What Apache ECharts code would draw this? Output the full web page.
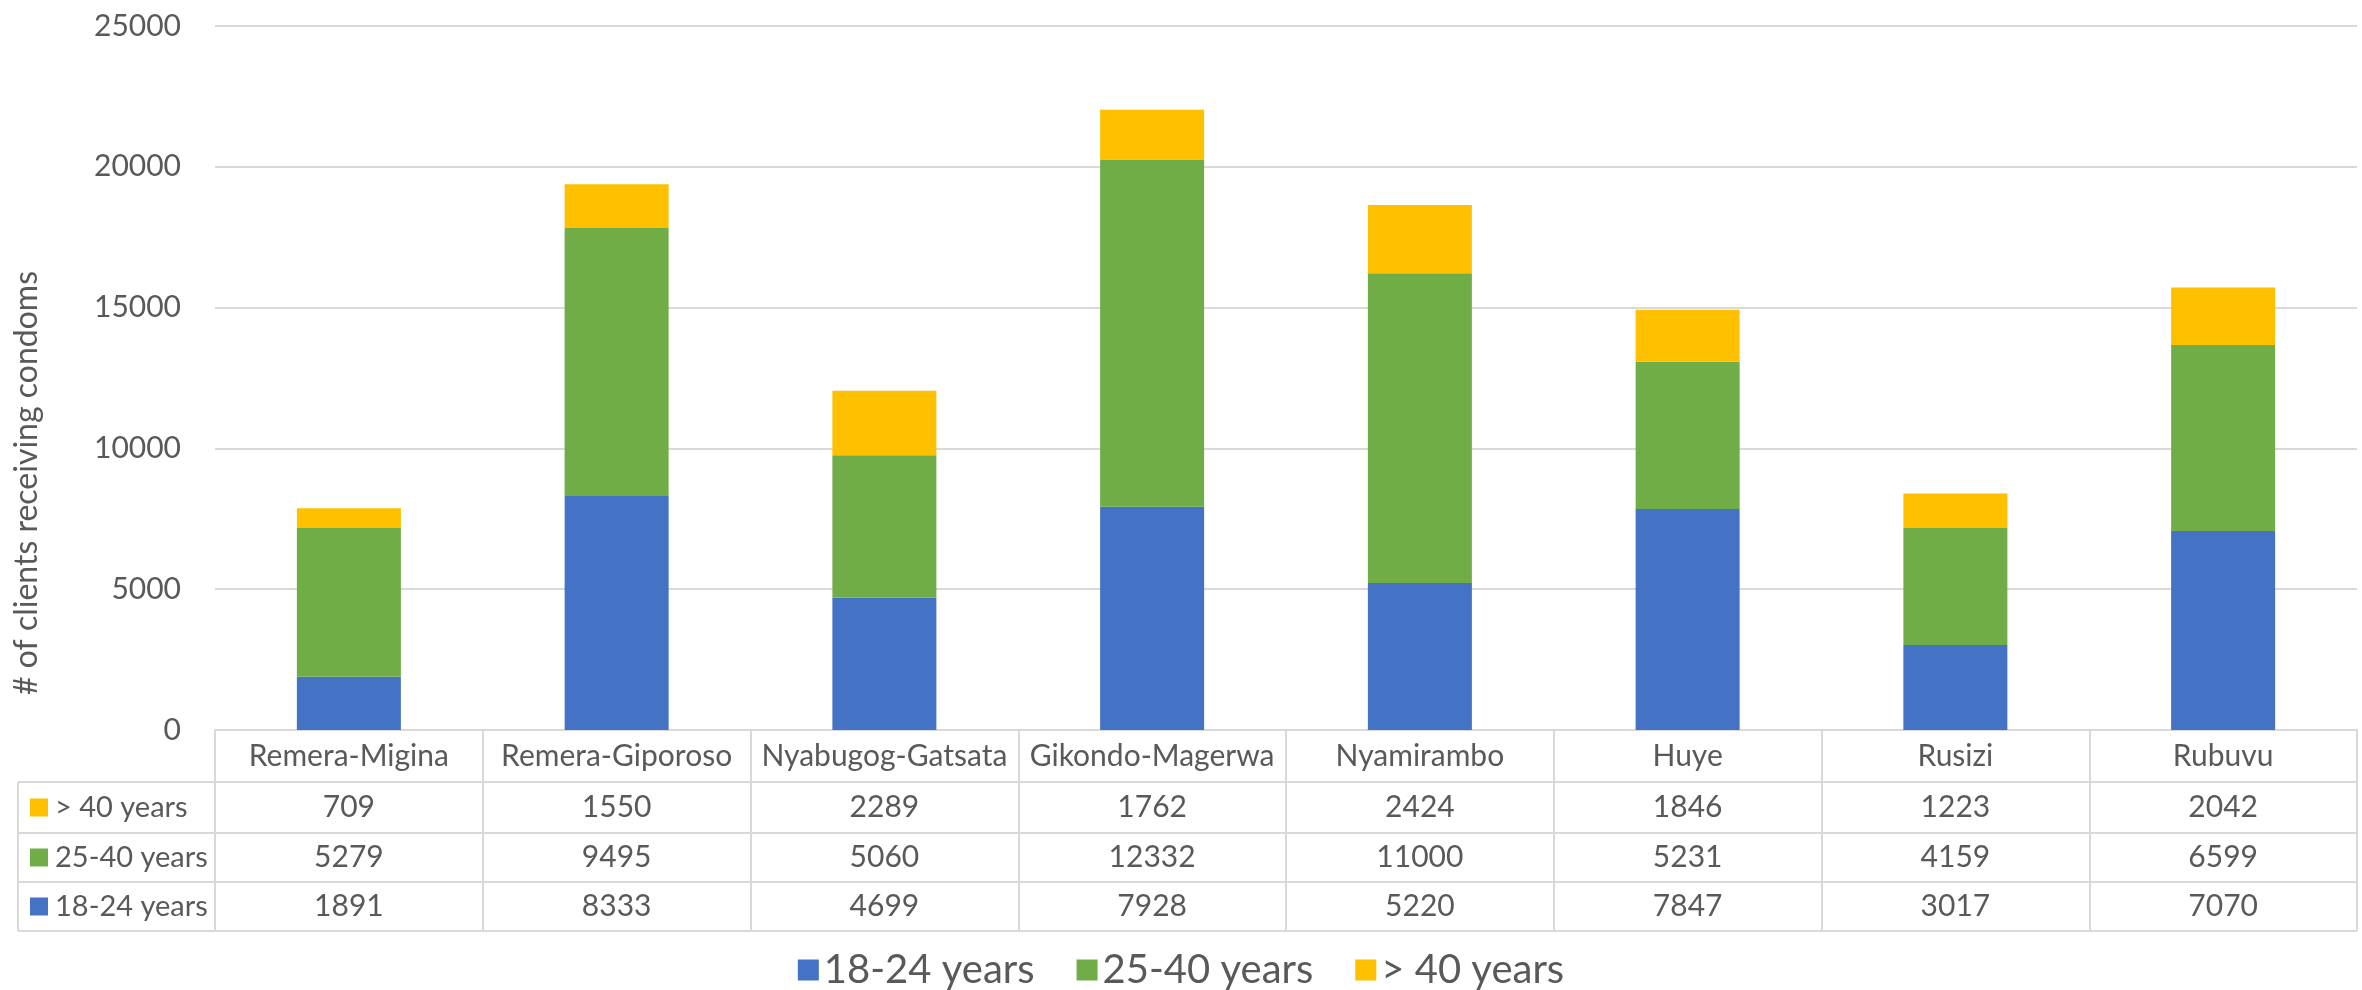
<!DOCTYPE html>
<html style="height: 100%">

<head>
    <meta charset="utf-8">
</head>

<body style="height: 100%; margin: 0">
    <div id="container" style="width: 2362px; height: 990px"></div>

    <script src="https://cdn.jsdelivr.net/npm/echarts@6/dist/echarts.min.js"></script>

    <script type="text/javascript">
        // data
        var sites = ['Remera-Migina', 'Remera-Giporoso', 'Nyabugog-Gatsata', 'Gikondo-Magerwa', 'Nyamirambo', 'Huye', 'Rusizi', 'Rubuvu'];
        var age18to24 = [1891, 8333, 4699, 7928, 5220, 7847, 3017, 7070];
        var age25to40 = [5279, 9495, 5060, 12332, 11000, 5231, 4159, 6599];
        var over40 = [709, 1550, 2289, 1762, 2424, 1846, 1223, 2042];
        var seriesNames = ['18-24 years', '25-40 years', '> 40 years'];
        var colors = ['#4472C4', '#70AD47', '#FFC000'];
        var yMax = 25000;
        var yStep = 5000;

        var myChart = echarts.init(document.getElementById('container'));

        var font = 'Lato, "Noto Sans", sans-serif';
        var fontSize = 30;
        var textColor = '#595959';
        var lineColor = '#D9D9D9';

        // layout of plot + data table (pixels)
        var gridLeft = 215, gridRight = 5, gridTop = 26, axisY = 730;
        var tableLeft = 18, tableRight = 2362 - gridRight;
        var rowLines = [782, 833, 882, 931];

        // table rows, top to bottom
        var tableRows = [
            { name: seriesNames[2], color: colors[2], values: over40 },
            { name: seriesNames[1], color: colors[1], values: age25to40 },
            { name: seriesNames[0], color: colors[0], values: age18to24 }
        ];

        var rowAxes = tableRows.map(function (row, i) {
            var center = (rowLines[i] + rowLines[i + 1]) / 2;
            return {
                type: 'category',
                gridIndex: 0,
                position: 'bottom',
                offset: center - fontSize / 2 - axisY - 2,
                data: sites,
                axisLine: { show: false },
                axisTick: { show: false },
                axisLabel: {
                    margin: 2,
                    fontFamily: font,
                    fontSize: fontSize,
                    color: textColor,
                    interval: 0,
                    formatter: function (v, idx) {
                        return String(row.values[idx]);
                    }
                }
            };
        });

        var graphics = [];
        rowLines.forEach(function (y) {
            graphics.push({
                type: 'line',
                shape: { x1: tableLeft, y1: y, x2: tableRight, y2: y },
                style: { stroke: lineColor, lineWidth: 2 }
            });
        });
        graphics.push({
            type: 'line',
            shape: { x1: tableLeft, y1: rowLines[0], x2: tableLeft, y2: rowLines[3] },
            style: { stroke: lineColor, lineWidth: 2 }
        });
        tableRows.forEach(function (row, i) {
            var center = (rowLines[i] + rowLines[i + 1]) / 2;
            graphics.push({
                type: 'rect',
                shape: { x: 30, y: center - 9, width: 18, height: 18 },
                style: { fill: row.color }
            });
            graphics.push({
                type: 'text',
                x: 55,
                y: center,
                style: {
                    text: row.name,
                    font: '29px ' + font,
                    fill: textColor,
                    textVerticalAlign: 'middle'
                }
            });
        });
        // y axis title
        graphics.push({
            type: 'text',
            x: 27,
            y: 483,
            rotation: Math.PI / 2,
            style: {
                text: '# of clients receiving condoms',
                font: '32px ' + font,
                fill: textColor,
                textAlign: 'center',
                textVerticalAlign: 'middle'
            }
        });

        var option = {
            animation: false,
            color: colors,
            grid: {
                left: gridLeft,
                right: gridRight,
                top: gridTop,
                bottom: 990 - axisY
            },
            legend: {
                data: seriesNames,
                left: 'center',
                top: 945,
                icon: 'rect',
                itemWidth: 21,
                itemHeight: 21,
                itemGap: 42,
                textStyle: { fontFamily: font, fontSize: 40, color: textColor }
            },
            xAxis: [
                {
                    type: 'category',
                    data: sites,
                    axisLine: { lineStyle: { color: lineColor, width: 2 } },
                    axisTick: {
                        show: true,
                        length: rowLines[3] - axisY,
                        lineStyle: { color: lineColor, width: 2 }
                    },
                    axisLabel: {
                        margin: (rowLines[0] - axisY) / 2 - fontSize / 2,
                        interval: 0,
                        fontFamily: font,
                        fontSize: fontSize,
                        color: textColor
                    }
                }
            ].concat(rowAxes),
            yAxis: {
                type: 'value',
                min: 0,
                max: yMax,
                interval: yStep,
                axisLine: { show: false },
                axisTick: { show: false },
                splitLine: { lineStyle: { color: lineColor, width: 2 } },
                axisLabel: {
                    margin: 34,
                    fontFamily: font,
                    fontSize: fontSize,
                    color: textColor,
                    formatter: function (v) { return String(v); }
                }
            },
            graphic: graphics,
            series: [
                { name: seriesNames[0], type: 'bar', stack: 'total', barWidth: 104, data: age18to24 },
                { name: seriesNames[1], type: 'bar', stack: 'total', barWidth: 104, data: age25to40 },
                { name: seriesNames[2], type: 'bar', stack: 'total', barWidth: 104, data: over40 }
            ]
        };

        myChart.setOption(option);
    </script>
</body>

</html>
